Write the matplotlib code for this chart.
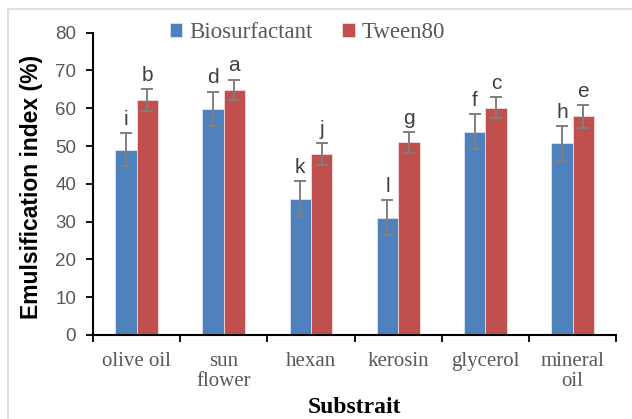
import matplotlib
matplotlib.use('Agg')
import matplotlib.pyplot as plt
from matplotlib.patches import Rectangle
import numpy as np

# Data
substrates = ["olive oil", "sun\nflower", "hexan", "kerosin", "glycerol", "mineral\noil"]
bio_values = [49.0, 59.8, 36.1, 31.0, 53.8, 50.7]
bio_errors = [4.4, 4.6, 4.6, 4.6, 4.6, 4.6]
bio_letters = ["i", "d", "k", "l", "f", "h"]
tween_values = [62.2, 64.9, 47.9, 51.0, 60.2, 57.9]
tween_errors = [2.8, 2.7, 2.8, 2.8, 2.8, 3.0]
tween_letters = ["b", "a", "j", "g", "c", "e"]

BLUE = "#4F81BD"
RED = "#C0504D"
GRAY = "#595959"

fig = plt.figure(figsize=(6.32, 4.19), dpi=100)
ax = fig.add_axes([0.147, 0.2005, 0.828, 0.7215])

# light chart border like an Excel chart area
fig.patches.append(Rectangle((8 / 632, -0.01), 1.0, 1 - 9 / 419 + 0.01,
                             transform=fig.transFigure, fill=False,
                             edgecolor="#D9D9D9", linewidth=1.2))

x = np.arange(len(substrates))
w = 0.245
err_kw = dict(ecolor="#7F7F7F", elinewidth=1.4, capsize=4, capthick=1.4)
ax.bar(x - w / 2, bio_values, w, yerr=bio_errors, color=BLUE,
       edgecolor="#DCE6F2", linewidth=0.6, error_kw=err_kw, label="Biosurfactant")
ax.bar(x + w / 2, tween_values, w, yerr=tween_errors, color=RED,
       edgecolor="#F2DCDB", linewidth=0.6, error_kw=err_kw, label="Tween80")

# significance letters
for xi, v, e, t in zip(x - w / 2, bio_values, bio_errors, bio_letters):
    ax.annotate(t, (xi, v + e), xytext=(0, 3), textcoords="offset points",
                ha="center", va="bottom", fontsize=15, color="#404040",
                family="Liberation Sans")
for xi, v, e, t in zip(x + w / 2, tween_values, tween_errors, tween_letters):
    ax.annotate(t, (xi, v + e), xytext=(0, 3), textcoords="offset points",
                ha="center", va="bottom", fontsize=15, color="#404040",
                family="Liberation Sans")

ax.set_xlim(-0.5, len(substrates) - 0.5)
ax.set_ylim(0, 80)
ax.set_yticks(np.arange(0, 81, 10))
for lbl in ax.get_yticklabels():
    lbl.set_family("Liberation Sans")
ax.tick_params(axis="y", labelsize=13.5, labelcolor=GRAY, direction="out",
               length=5, width=1.3, color="black", pad=7)

ax.set_xticks(np.arange(-0.5, len(substrates), 1.0))
ax.set_xticklabels([])
ax.set_xticks(x, minor=True)
ax.set_xticklabels(substrates, minor=True, fontsize=15, color=GRAY,
                   family="Liberation Serif", linespacing=1.1)
ax.tick_params(axis="x", which="major", direction="out", length=5,
               width=1.3, color="black")
ax.tick_params(axis="x", which="minor", length=0, pad=12)

for s in ["top", "right"]:
    ax.spines[s].set_visible(False)
for s in ["left", "bottom"]:
    ax.spines[s].set_linewidth(1.5)

ax.set_ylabel("Emulsification index (%)", fontsize=16.5, fontweight="bold",
              family="Liberation Sans", va="center")
ax.yaxis.set_label_coords(-0.118, 0.49)
ax.set_xlabel("Substrait", fontsize=17, fontweight="bold",
              family="Liberation Serif", va="center")
ax.xaxis.set_label_coords(0.5, -0.241)

leg = ax.legend(loc="center", bbox_to_anchor=(0.41, 1.0), ncol=2,
                frameon=False, prop={"family": "Liberation Serif", "size": 16.5},
                handlelength=0.55, handleheight=0.55, handletextpad=0.3,
                columnspacing=1.3, borderaxespad=0, borderpad=0)
for t in leg.get_texts():
    t.set_color(GRAY)

fig.savefig("out.png", dpi=100)
